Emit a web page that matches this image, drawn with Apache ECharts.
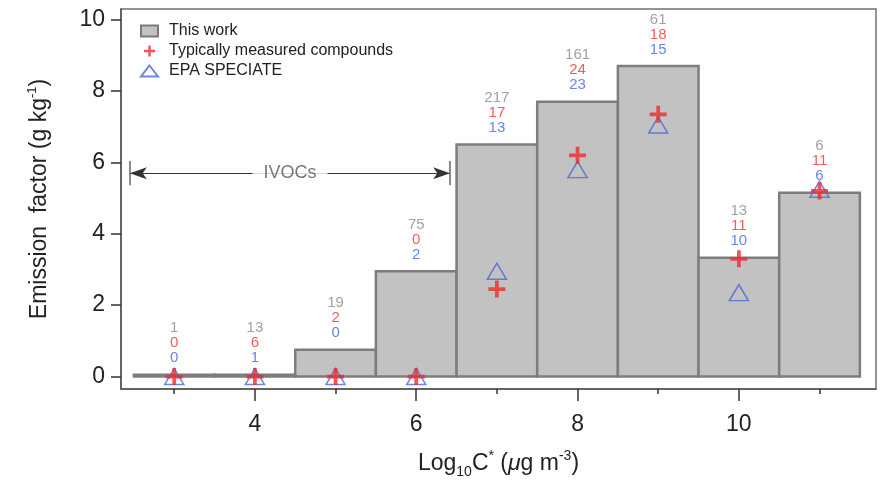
<!DOCTYPE html>
<html><head><meta charset="utf-8">
<script src="https://cdn.jsdelivr.net/npm/echarts@6/dist/echarts.min.js"></script>
<style>html,body{margin:0;padding:0;background:#fff}#c{width:887px;height:484px}</style>
</head><body><div id="c"></div>
<script>
// ---- data ----
const binCenters = [3, 4, 5, 6, 7, 8, 9, 10, 11];
const thisWork   = [0.05, 0.05, 0.75, 2.95, 6.5, 7.7, 8.7, 3.33, 5.15];
const typical    = [0, 0, 0, 0, 2.45, 6.2, 7.35, 3.3, 5.2];
const epa        = [0, 0, 0, 0, 2.95, 5.8, 7.05, 2.35, 5.25];
const nThisWork  = [1, 13, 19, 75, 217, 161, 61, 13, 6];
const nTypical   = [0, 6, 2, 0, 17, 24, 18, 11, 11];
const nEpa       = [0, 1, 0, 2, 13, 23, 15, 10, 6];
const xMajorTicks = [4, 6, 8, 10];
const xMinorTicks = [3, 5, 7, 9, 11];
const yTicks = [0, 2, 4, 6, 8, 10];
const ivocRange = [2.45, 6.42];
const ivocY = 5.7;

const FONT = 'Liberation Sans, Arial, Helvetica, sans-serif';
const barData = binCenters.map((x, i) => [x, thisWork[i]]);
const typData = binCenters.map((x, i) => [x, typical[i]]);
const epaData = binCenters.map((x, i) => [x, epa[i]]);
const lblData = binCenters.map((x, i) => ({value: [x, thisWork[i]], counts: [nThisWork[i], nTypical[i], nEpa[i]]}));

const plusPath = 'path://M3.9,0H6.1V3.9H10V6.1H6.1V10H3.9V6.1H0V3.9H3.9Z';
const xRange = {min: 2.34, max: 11.7};

const chart = echarts.init(document.getElementById('c'), null, {renderer: 'canvas'});
chart.setOption({
  animation: false,
  textStyle: {fontFamily: FONT},
  grid: {left: 121, right: 11, top: 9, bottom: 89, show: true, borderColor: '#707070', borderWidth: 1.5, backgroundColor: 'transparent'},
  legend: {
    left: 135, top: 18, orient: 'vertical', itemWidth: 17, itemHeight: 11, itemGap: 4,
    textStyle: {fontSize: 16, color: '#222', fontFamily: FONT, padding: [0, 0, 0, 6]},
    data: [
      {name: 'This work', icon: 'rect'},
      {name: 'Typically measured compounds', icon: plusPath},
      {name: 'EPA SPECIATE', icon: 'triangle'}
    ]
  },
  xAxis: [{
    type: 'value', ...xRange,
    axisLine: {show: true, onZero: false, lineStyle: {color: '#555', width: 1.5}},
    axisTick: {show: true, customValues: xMajorTicks, length: 12, lineStyle: {color: '#333', width: 1.5}},
    axisLabel: {customValues: xMajorTicks, margin: 24, fontSize: 23, color: '#222', fontFamily: FONT},
    splitLine: {show: false},
    name: 'Log{sub|10}C{sup|*} ({mu|μ}g m{sup|-3})',
    nameLocation: 'middle', nameGap: 60,
    nameTextStyle: {fontSize: 23, color: '#222', fontFamily: FONT, lineHeight: 30,
      rich: {
        sub: {fontSize: 14, verticalAlign: 'bottom', lineHeight: 30, color: '#222'},
        sup: {fontSize: 14, verticalAlign: 'top', lineHeight: 30, color: '#222'},
        mu: {fontSize: 23, fontStyle: 'italic', color: '#222'}
      }}
  }, {
    type: 'value', ...xRange, position: 'bottom',
    axisLine: {show: false, onZero: false},
    axisTick: {show: true, customValues: xMinorTicks, length: 5, lineStyle: {color: '#333', width: 1.5}},
    axisLabel: {show: false},
    splitLine: {show: false}
  }],
  yAxis: {
    type: 'value', min: -0.35, max: 10.3,
    axisLine: {show: true, onZero: false, lineStyle: {color: '#555', width: 1.5}},
    axisTick: {show: true, customValues: yTicks, length: 10, lineStyle: {color: '#333', width: 1.5}},
    axisLabel: {customValues: yTicks, margin: 16, fontSize: 23, color: '#222', fontFamily: FONT},
    splitLine: {show: false},
    name: 'Emission  factor (g kg{sup|-1})',
    nameLocation: 'middle', nameGap: 67, nameRotate: 90,
    nameTextStyle: {fontSize: 23, color: '#222', fontFamily: FONT, lineHeight: 28,
      rich: {sup: {fontSize: 13, verticalAlign: 'top', lineHeight: 28, color: '#222'}}}
  },
  series: [
    {
      name: 'This work', type: 'custom', xAxisIndex: 0,
      itemStyle: {color: '#c2c2c2', borderColor: '#7a7a7a', borderWidth: 1.5},
      renderItem: function (params, api) {
        const x = api.value(0), h = api.value(1);
        const p0 = api.coord([x - 0.5, h]);
        const p1 = api.coord([x + 0.5, 0]);
        return {type: 'rect', shape: {x: p0[0], y: p0[1], width: p1[0] - p0[0], height: p1[1] - p0[1]},
          style: {fill: '#c2c2c2', stroke: '#7d7d7d', lineWidth: 2.5}};
      },
      data: barData, z: 1
    },
    {
      name: 'EPA SPECIATE', type: 'scatter', symbol: 'triangle', symbolSize: [19, 16],
      itemStyle: {color: 'rgba(255,255,255,0)', borderColor: '#4a68d8', borderWidth: 1.5},
      data: epaData, z: 3
    },
    {
      name: 'Typically measured compounds', type: 'scatter', symbol: plusPath, symbolSize: 17,
      itemStyle: {color: '#ee2a2a'},
      data: typData, z: 4
    },
    {
      name: 'counts', type: 'scatter', symbolSize: 0, silent: true, z: 5,
      label: {
        show: true, position: 'top', distance: 9,
        formatter: p => '{g|' + p.data.counts[0] + '}\n{r|' + p.data.counts[1] + '}\n{b|' + p.data.counts[2] + '}',
        rich: {
          g: {color: '#8a8a8a', fontSize: 15, lineHeight: 15, align: 'center', fontFamily: FONT},
          r: {color: '#ee3333', fontSize: 15, lineHeight: 15, align: 'center', fontFamily: FONT},
          b: {color: '#4466dd', fontSize: 15, lineHeight: 15, align: 'center', fontFamily: FONT}
        }
      },
      data: lblData,
      markLine: {
        silent: true, animation: false, symbol: ['arrow', 'arrow'], symbolSize: [9, 17],
        lineStyle: {color: '#333', width: 1, type: 'solid'},
        label: {show: false},
        data: [
          [{coord: [ivocRange[0], ivocY]}, {coord: [ivocRange[1], ivocY]}],
          [{coord: [ivocRange[0], ivocY - 0.34], symbol: 'none', lineStyle: {color: '#666', width: 1.5}},
           {coord: [ivocRange[0], ivocY + 0.34], symbol: 'none'}],
          [{coord: [ivocRange[1], ivocY - 0.34], symbol: 'none', lineStyle: {color: '#666', width: 1.5}},
           {coord: [ivocRange[1], ivocY + 0.34], symbol: 'none'}]
        ]
      }
    },
    {
      name: 'ivocLabel', type: 'scatter', symbolSize: 0, silent: true, z: 10,
      label: {show: true, position: 'inside', formatter: 'IVOCs', color: '#555', fontSize: 18,
        backgroundColor: '#fff', padding: [2, 11], fontFamily: FONT},
      data: [[(ivocRange[0] + ivocRange[1]) / 2, ivocY]]
    }
  ]
});
</script></body></html>
